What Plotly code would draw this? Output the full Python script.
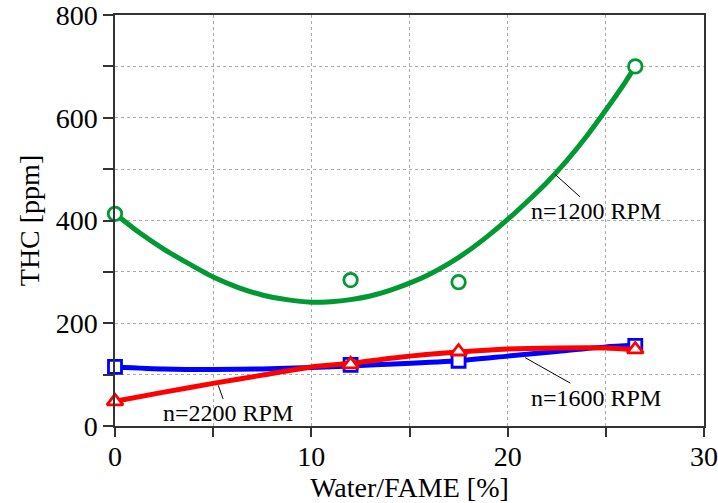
import plotly.graph_objects as go

# measured points
x_pts = [0, 12, 17.5, 26.5]
thc_1200 = [413, 284, 280, 700]
thc_1600 = [115, 119, 127, 156]
thc_2200 = [48, 120, 145, 149]

# fitted curves
x_fit_1200 = [0, 1.25, 2.5, 3.75, 5, 6.25, 7.5, 8.75, 10, 11, 12, 13, 14, 15, 16, 17, 18, 19, 20,
              21, 22, 23, 24, 25, 26, 26.5]
fit_1200 = [413, 376, 344, 316, 290, 270, 255, 246, 241, 242, 246, 253, 264, 278, 295, 316, 341, 370, 402,
            437, 474, 516, 563, 615, 670, 700]
x_fit_lo = [0, 2.5, 5, 7.5, 10, 12, 14.5, 17.5, 20, 22.5, 25, 26.5]
fit_1600 = [115, 111, 110, 111, 114, 117, 121, 127, 136, 145, 154, 157]
fit_2200 = [48, 66, 83, 99, 115, 122, 134, 144, 150, 152, 152, 149]

x_tickvals = [0, 5, 10, 15, 20, 25, 30]
x_ticktext = ["0", "", "10", "", "20", "", "30"]
y_tickvals = [0, 100, 200, 300, 400, 500, 600, 700, 800]
y_ticktext = ["0", "", "200", "", "400", "", "600", "", "800"]

GREEN = "#009933"
BLUE = "#0000ff"
RED = "#ff0000"
FONT = "Liberation Serif"
FS = 28

fig = go.Figure()
series = [
    (x_fit_1200, fit_1200, thc_1200, GREEN, "circle", 13.5, "n=1200 RPM"),
    (x_fit_lo, fit_1600, thc_1600, BLUE, "square", 13, "n=1600 RPM"),
    (x_fit_lo, fit_2200, thc_2200, RED, "triangle-up", 14, "n=2200 RPM"),
]
for xf, fit, pts, col, sym, msize, name in series:
    fig.add_trace(go.Scatter(x=xf, y=fit, mode="lines",
                             line=dict(color=col, width=5, shape="spline", smoothing=0.6),
                             showlegend=False, hoverinfo="skip", cliponaxis=False))
    fig.add_trace(go.Scatter(x=x_pts, y=pts, mode="markers", name=name, showlegend=False, cliponaxis=False,
                             marker=dict(symbol=sym, size=msize, color="white", line=dict(color=col, width=2.8))))

ann_font = dict(family=FONT, size=24, color="black")
fig.add_annotation(x=22.41, y=490, text="n=1200 RPM", showarrow=True, arrowhead=0, arrowwidth=1,
                   arrowcolor="black", ax=41, ay=37, font=ann_font)
fig.add_annotation(x=20.89, y=133, text="n=1600 RPM", showarrow=True, arrowhead=0, arrowwidth=1,
                   arrowcolor="black", ax=71, ay=40, font=ann_font)
fig.add_annotation(x=5.26, y=79, text="n=2200 RPM", showarrow=True, arrowhead=0, arrowwidth=1,
                   arrowcolor="black", ax=10, ay=28, font=ann_font)

axis_common = dict(showline=True, linecolor="#333333", linewidth=1.5, mirror=True,
                   ticks="outside", tickwidth=1.5, tickcolor="#333333",
                   showgrid=True, gridcolor="#aaaaaa", gridwidth=1, griddash="dot",
                   zeroline=False, automargin=False, ticklabeloverflow="allow",
                   tickfont=dict(family=FONT, size=FS, color="black"))
fig.update_xaxes(range=[0, 30], tickmode="array", tickvals=x_tickvals, ticktext=x_ticktext,
                 ticklen=9, ticklabelstandoff=-4,
                 title=dict(text="Water/FAME [%]", font=dict(family=FONT, size=FS, color="black"), standoff=5),
                 **axis_common)
fig.update_yaxes(range=[0, 800], tickmode="array", tickvals=y_tickvals, ticktext=y_ticktext,
                 ticklen=10,
                 title=dict(text="THC [ppm]", font=dict(family=FONT, size=FS, color="black"), standoff=8),
                 **axis_common)
fig.update_layout(width=718, height=503, margin=dict(l=115, r=14, t=15, b=77),
                  plot_bgcolor="white", paper_bgcolor="white", showlegend=False)
fig.write_html("out.html", config={"displayModeBar": False},
               post_script="document.body.style.margin='0';document.body.style.overflow='hidden';")
